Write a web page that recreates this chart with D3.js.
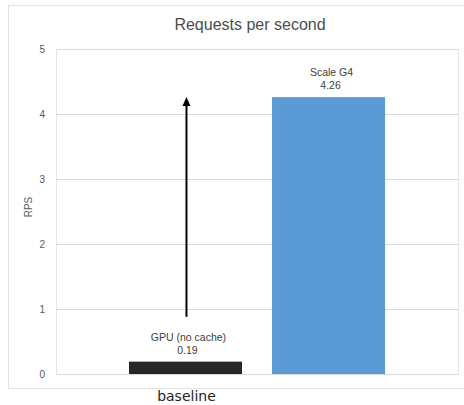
<!DOCTYPE html>
<html>
<head>
<meta charset="utf-8">
<script src="https://cdn.jsdelivr.net/npm/d3@7"></script>
<style>
  html, body { margin: 0; padding: 0; background: #fff; }
  svg { display: block; font-family: "Liberation Sans", Arial, sans-serif; }
</style>
</head>
<body>
<svg id="chart" width="464" height="405"></svg>
<script>
const categories = ["GPU (no cache)", "Scale G4"];
const values = [0.19, 4.26];
const barColors = ["#262626", "#5b9bd5"];
const yTicks = [0, 1, 2, 3, 4, 5];
const title = "Requests per second";
const yLabel = "RPS";
const groupLabel = "baseline";
const arrowFrom = 0.88;
const arrowTo = 4.26;

const svg = d3.select("#chart");
const plot = { left: 56, right: 458, top: 49, bottom: 374 };

const x = d3.scaleBand().domain(categories).range([plot.left, plot.right])
  .paddingInner(0.21).paddingOuter(0.51);
const y = d3.scaleLinear().domain([0, 5]).range([plot.bottom, plot.top]);

// outer chart frame
svg.append("rect").attr("x", 8.5).attr("y", 5.5).attr("width", 470).attr("height", 383)
  .attr("fill", "none").attr("stroke", "#e3e3e3");

// title
svg.append("text").attr("x", 250).attr("y", 30).attr("text-anchor", "middle")
  .attr("font-size", 16).attr("fill", "#4d4d4d").text(title);

// plot border
svg.append("rect").attr("x", plot.left + 0.5).attr("y", plot.top + 0.5)
  .attr("width", plot.right - plot.left).attr("height", plot.bottom - plot.top)
  .attr("fill", "none").attr("stroke", "#e6e6e6");

// gridlines + y axis
const yAxis = d3.axisLeft(y).tickValues(yTicks).tickFormat(d3.format("d"))
  .tickSize(-(plot.right - plot.left)).tickPadding(11);
const gy = svg.append("g").attr("transform", `translate(${plot.left},0)`).call(yAxis);
gy.select(".domain").remove();
gy.selectAll(".tick line").attr("stroke", "#d9d9d9");
gy.selectAll(".tick text").attr("fill", "#595959").attr("font-size", 10)
  .attr("font-family", "'Liberation Sans', Arial, sans-serif");

// y label
svg.append("text").attr("transform", `translate(32,207) rotate(-90)`)
  .attr("text-anchor", "middle").attr("font-size", 10).attr("fill", "#595959").text(yLabel);

// bars
svg.selectAll("rect.bar").data(categories).join("rect").attr("class", "bar")
  .attr("x", d => x(d)).attr("width", x.bandwidth())
  .attr("y", (d, i) => y(values[i])).attr("height", (d, i) => y(0) - y(values[i]))
  .attr("fill", (d, i) => barColors[i]);

// data labels
const lbl = svg.selectAll("g.lbl").data(categories).join("g").attr("class", "lbl");
lbl.append("text").attr("x", d => x(d) + x.bandwidth() / 2 + 3)
  .attr("y", (d, i) => y(values[i]) - 21).attr("text-anchor", "middle")
  .attr("font-size", 10.5).attr("fill", "#404040").text(d => d);
lbl.append("text").attr("x", d => x(d) + x.bandwidth() / 2 + 2)
  .attr("y", (d, i) => y(values[i]) - 8).attr("text-anchor", "middle")
  .attr("font-size", 10.5).attr("fill", "#404040").text((d, i) => values[i].toFixed(2));

// arrow
const ax = x(categories[0]) + x.bandwidth() / 2 + 1;
const tip = y(arrowTo);
svg.append("line").attr("x1", ax).attr("x2", ax)
  .attr("y1", y(arrowFrom)).attr("y2", tip + 6)
  .attr("stroke", "#000").attr("stroke-width", 2);
svg.append("path")
  .attr("d", `M${ax},${tip} L${ax - 4},${tip + 9} L${ax + 4},${tip + 9} Z`)
  .attr("fill", "#000");

// group label
svg.append("text").attr("x", x(categories[0]) + x.bandwidth() / 2 + 1).attr("y", 401)
  .attr("text-anchor", "middle").attr("font-size", 14).attr("fill", "#262626")
  .attr("font-family", "'DejaVu Sans', sans-serif").text(groupLabel);
</script>
</body>
</html>
